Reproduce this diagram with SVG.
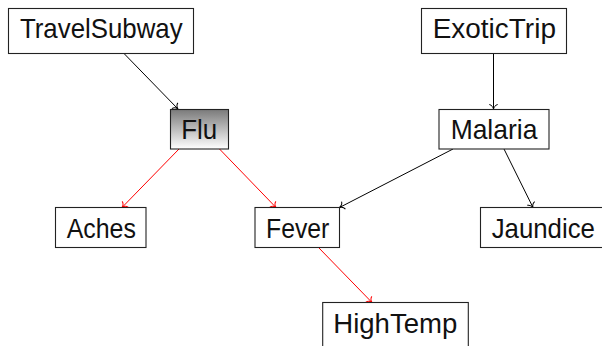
<svg xmlns="http://www.w3.org/2000/svg" width="602" height="346" viewBox="0 0 602 346">
<style>
.box{fill:#fff;stroke:#222;stroke-width:1.1}
.lbl{font-family:"Liberation Sans","DejaVu Sans",sans-serif;font-size:27.5px;fill:#111;text-anchor:middle}
.edge{fill:none;stroke-width:1}
.blk{stroke:#000}
.red{stroke:#ff0000}
</style>
<defs>
<linearGradient id="fluGrad" x1="0" y1="0" x2="0" y2="1">
<stop offset="0" stop-color="#7a7a7a"/>
<stop offset="1" stop-color="#ffffff"/>
</linearGradient>
<marker id="arrB" markerUnits="userSpaceOnUse" viewBox="-6 -5 7 10" markerWidth="7" markerHeight="10" refX="0" refY="0" orient="auto">
<path d="M -4.5 -4.2 C -4 -1.6 -1.3 -0.3 0 0 C -1.3 0.3 -4 1.6 -4.5 4.2" fill="none" stroke="#000" stroke-width="1"/>
</marker>
<marker id="arrR" markerUnits="userSpaceOnUse" viewBox="-6 -5 7 10" markerWidth="7" markerHeight="10" refX="0" refY="0" orient="auto">
<path d="M -4.5 -4.2 C -4 -1.6 -1.3 -0.3 0 0 C -1.3 0.3 -4 1.6 -4.5 4.2" fill="none" stroke="#ff0000" stroke-width="1"/>
</marker>
</defs>
<g id="connectors">
<line class="edge blk" x1="124" y1="53.5" x2="178" y2="109" marker-end="url(#arrB)"/>
<line class="edge blk" x1="493.5" y1="53.5" x2="493.5" y2="109" marker-end="url(#arrB)"/>
<line class="edge red" x1="179" y1="149" x2="122" y2="207.5" marker-end="url(#arrR)"/>
<line class="edge red" x1="219.5" y1="149" x2="276" y2="207.5" marker-end="url(#arrR)"/>
<line class="edge blk" x1="453" y1="149" x2="339.5" y2="207.5" marker-end="url(#arrB)"/>
<line class="edge blk" x1="504" y1="149" x2="533" y2="207.5" marker-end="url(#arrB)"/>
<line class="edge red" x1="318.5" y1="247.5" x2="372" y2="302.5" marker-end="url(#arrR)"/>
</g>
<g id="TravelSubway">
<rect class="box" x="8.5" y="8.5" width="185" height="45"/>
<text class="lbl" x="101.3" y="37.5" textLength="162.7" lengthAdjust="spacingAndGlyphs">TravelSubway</text>
</g>
<g id="ExoticTrip">
<rect class="box" x="421.5" y="8.5" width="145" height="45"/>
<text class="lbl" x="494.3" y="37.5" textLength="123.3" lengthAdjust="spacingAndGlyphs">ExoticTrip</text>
</g>
<g id="Flu">
<rect class="box" x="170.5" y="109.5" width="58" height="39.5" style="fill:url(#fluGrad)"/>
<text class="lbl" x="199.2" y="138.7" textLength="36" lengthAdjust="spacingAndGlyphs">Flu</text>
</g>
<g id="Malaria">
<rect class="box" x="439" y="109.5" width="110" height="39.5"/>
<text class="lbl" x="494" y="138.7" textLength="86.7" lengthAdjust="spacingAndGlyphs">Malaria</text>
</g>
<g id="Aches">
<rect class="box" x="55.5" y="207.5" width="90.5" height="40"/>
<text class="lbl" x="101.3" y="237.5" textLength="69.3" lengthAdjust="spacingAndGlyphs">Aches</text>
</g>
<g id="Fever">
<rect class="box" x="255" y="207.5" width="84.5" height="40"/>
<text class="lbl" x="297.7" y="237.5" textLength="63.3" lengthAdjust="spacingAndGlyphs">Fever</text>
</g>
<g id="Jaundice">
<rect class="box" x="480.5" y="207.5" width="126" height="40"/>
<text class="lbl" x="543.3" y="237.5" textLength="103.3" lengthAdjust="spacingAndGlyphs">Jaundice</text>
</g>
<g id="HighTemp">
<rect class="box" x="322.7" y="302.5" width="145.6" height="48"/>
<text class="lbl" x="395.3" y="332.9" textLength="124" lengthAdjust="spacingAndGlyphs">HighTemp</text>
</g>
</svg>
